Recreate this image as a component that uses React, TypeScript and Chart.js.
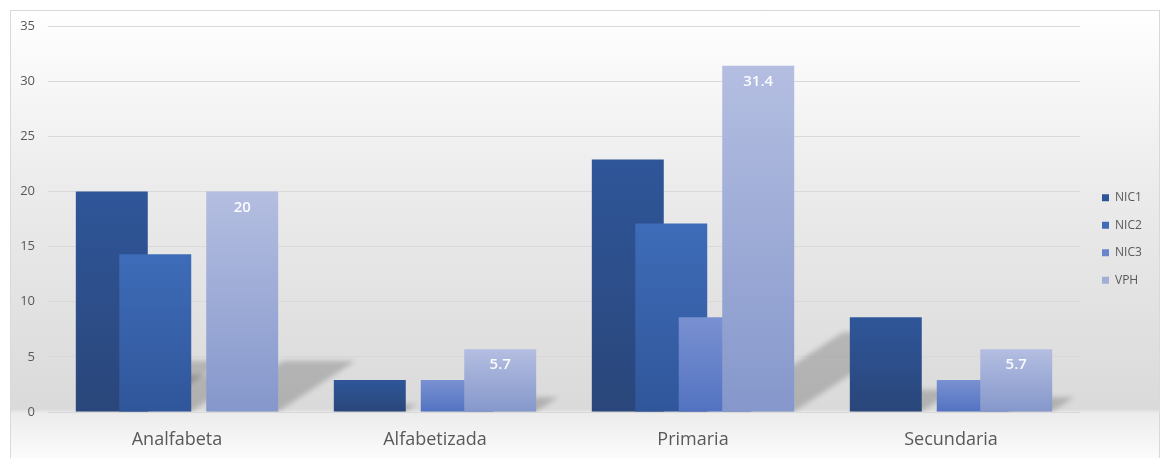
import React, { useEffect, useRef } from 'react';
import { Chart, registerables } from 'chart.js';

Chart.register(...registerables);

const categories = ['Analfabeta', 'Alfabetizada', 'Primaria', 'Secundaria'];
const seriesNames = ['NIC1', 'NIC2', 'NIC3', 'VPH'];
const nic1 = [20, 2.9, 22.9, 8.6];
const nic2 = [14.3, 0, 17.1, 0];
const nic3 = [0, 2.9, 8.6, 2.9];
const vph = [20, 5.7, 31.4, 5.7];
const labelledSeries = 3; // VPH shows value labels

const colorsTop = ['#2f5699', '#3e6cb8', '#7a91d1', '#b4bee1'];
const colorsBottom = ['#2a467a', '#30569a', '#5272c1', '#8597cb'];
const legendColors = ['#2d4f8c', '#3a64ad', '#6a84cb', '#a8b4dc'];

const LEGEND_FONT = '12px "Open Sans"';

const makeFill = (i: number) => (ctx: any) => {
  if (ctx.type !== 'data') return legendColors[i];
  const chart = ctx.chart;
  const ys = chart.scales && chart.scales.y;
  if (!ys || !chart.chartArea) return legendColors[i];
  const v = ctx.raw as number;
  const top = ys.getPixelForValue(v);
  const bottom = ys.getPixelForValue(0);
  if (!(bottom - top > 0.5) || !isFinite(top) || !isFinite(bottom)) return legendColors[i];
  const g = chart.ctx.createLinearGradient(0, top, 0, bottom);
  g.addColorStop(0, colorsTop[i]);
  g.addColorStop(1, colorsBottom[i]);
  return g;
};

const drawPlugin = {
  id: 'customDraw',
  afterLayout(chart: any) {
    const lg = chart.legend;
    if (lg) {
      lg.left += 6.5;
      lg.right += 6.5;
      lg.top -= 3;
      lg.bottom -= 3;
    }
  },
  beforeDatasetsDraw(chart: any) {
    const ctx = chart.ctx;
    const area = chart.chartArea;
    // perspective shadows
    ctx.save();
    ctx.beginPath();
    ctx.rect(area.left, area.top, area.right - area.left, area.bottom - area.top);
    ctx.clip();
    ctx.filter = 'blur(2.5px)';
    ctx.fillStyle = 'rgba(0,0,0,0.19)';
    chart.data.datasets.forEach((_d: any, i: number) => {
      const meta = chart.getDatasetMeta(i);
      meta.data.forEach((el: any) => {
        const h = el.base - el.y;
        if (h < 6) return;
        const sh = 0.23 * h;
        const sx = 0.35 * h;
        const l = el.x - el.width / 2;
        const r = el.x + el.width / 2;
        ctx.beginPath();
        ctx.moveTo(l, el.base);
        ctx.lineTo(r, el.base);
        ctx.lineTo(r + sx, el.base - sh);
        ctx.lineTo(l + sx, el.base - sh);
        ctx.closePath();
        ctx.fill();
      });
    });
    ctx.restore();
    // bars, later series on top
    for (let i = 0; i < chart.data.datasets.length; i++) {
      const meta = chart.getDatasetMeta(i);
      if (!meta.hidden) meta.controller.draw();
    }
    // value labels
    const meta = chart.getDatasetMeta(labelledSeries);
    const values = chart.data.datasets[labelledSeries].data;
    ctx.save();
    ctx.font = '600 15px "Open Sans"';
    ctx.fillStyle = 'rgba(255,255,255,0.95)';
    ctx.textAlign = 'center';
    ctx.textBaseline = 'middle';
    meta.data.forEach((el: any, j: number) => {
      const v = values[j];
      if (!v) return;
      ctx.fillText(String(v), el.x, el.y + 16);
    });
    ctx.restore();
    return false;
  },
};

export default function App() {
  const ref = useRef<HTMLCanvasElement>(null);
  useEffect(() => {
    if (!ref.current) return;
    const mctx = document.createElement('canvas').getContext('2d')!;
    mctx.font = LEGEND_FONT;
    const maxW = Math.max(...seriesNames.map((s) => mctx.measureText(s).width));
    const legendW = 15.5 + 7 + 6 + maxW + 10;
    const padRight = Math.max(0, 79 - legendW);
    const series = [nic1, nic2, nic3, vph];
    const chart = new Chart(ref.current, {
      type: 'bar',
      data: {
        labels: categories,
        datasets: series.map((d, i) => ({
          label: seriesNames[i],
          data: d,
          backgroundColor: makeFill(i),
          borderWidth: 0,
          categoryPercentage: 0.674,
          barPercentage: 1.655,
        })),
      },
      options: {
        responsive: false,
        devicePixelRatio: 1,
        animation: false,
        layout: { padding: { left: 0, top: 15, right: padRight, bottom: 0 } },
        plugins: {
          tooltip: { enabled: false },
          legend: {
            position: 'right',
            align: 'center',
            labels: {
              boxWidth: 7,
              boxHeight: 7,
              padding: 15.5,
              color: '#595959',
              font: { family: '"Open Sans"', size: 12 },
            },
          },
        },
        scales: {
          x: {
            grid: { display: false, drawTicks: false },
            border: { display: false },
            ticks: {
              padding: 17,
              color: '#595959',
              font: { family: '"Open Sans"', size: 18 },
            },
            afterFit: (s: any) => { s.height = 46; },
          },
          y: {
            min: 0,
            max: 35,
            grid: { color: '#d9d9d9', lineWidth: 1, drawTicks: false },
            border: { display: false },
            ticks: {
              stepSize: 5,
              padding: 13,
              color: '#595959',
              font: { family: '"Open Sans"', size: 13 },
            },
            afterFit: (s: any) => {
              s.width = 37;
              s.paddingTop = 0;
              s.paddingBottom = 0;
            },
          },
        },
      },
      plugins: [drawPlugin],
    });
    return () => chart.destroy();
  }, []);
  return (
    <div
      style={{
        position: 'absolute',
        left: 10,
        top: 10,
        width: 1150,
        height: 449,
        boxSizing: 'border-box',
        border: '1px solid #d9d9d9',
        background:
          'linear-gradient(to bottom, #ffffff 0px, #ebebeb 180px, #dadada 398px, #ececec 402px, #fbfbfb 446px)',
      }}
    >
      <canvas ref={ref} width={1148} height={447} style={{ display: 'block' }} />
    </div>
  );
}
